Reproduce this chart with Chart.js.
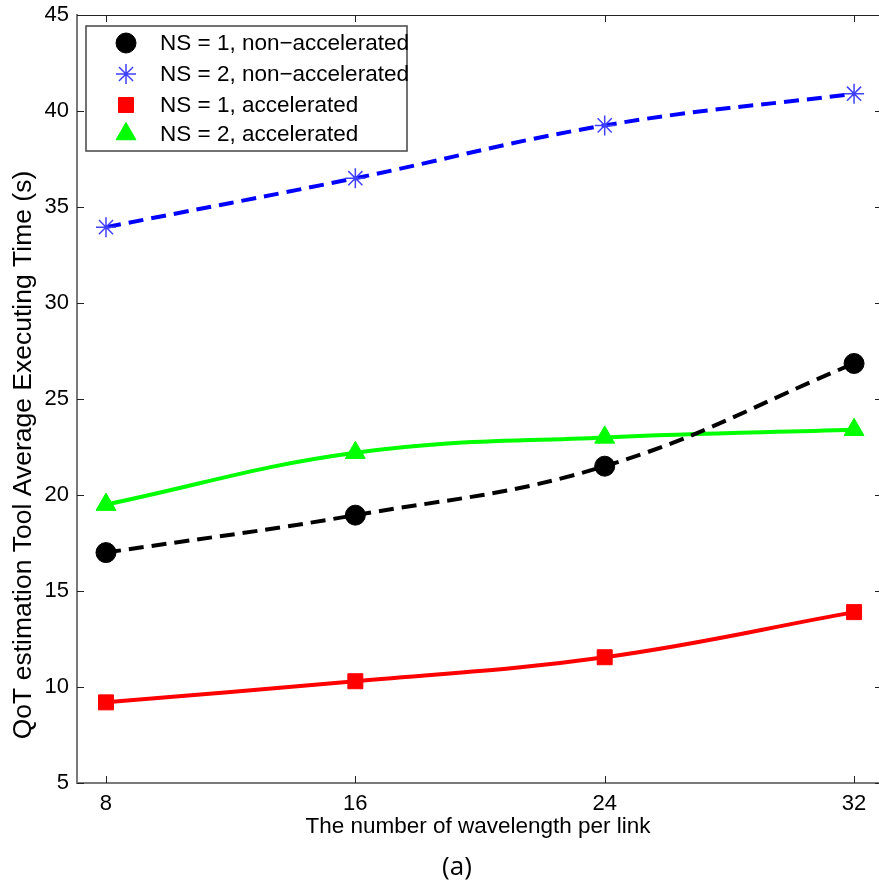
<!DOCTYPE html>
<html>
<head>
<meta charset="utf-8">
<script src="https://cdn.jsdelivr.net/npm/chart.js@4/dist/chart.umd.min.js"></script>
<style>
  html, body { margin: 0; padding: 0; background: #fff; }
</style>
</head>
<body>
<canvas id="chart" width="879" height="882"></canvas>
<script>
// data
const wavelengths = [8, 16, 24, 32];
const ns1NonAccel = [17.0, 18.95, 21.5, 26.85];
const ns2NonAccel = [33.95, 36.5, 39.25, 40.9];
const ns1Accel = [9.2, 10.3, 11.55, 13.9];
const ns2Accel = [19.5, 22.2, 23.0, 23.4];
const seriesNames = [
  "NS = 1, non\u2212accelerated",
  "NS = 2, non\u2212accelerated",
  "NS = 1, accelerated",
  "NS = 2, accelerated",
];
const xTicks = [8, 16, 24, 32];
const yTicks = [5, 10, 15, 20, 25, 30, 35, 40, 45];
const yTitle = "QoT estimation Tool Average Executing Time (s)";
const xTitle = "The number of wavelength per link";

const FONT = "'Liberation Sans', Arial, sans-serif";

function pts(values) {
  return wavelengths.map((x, i) => ({ x: x, y: values[i] }));
}

// inward ticks, top frame, y title, boxed legend and the "(a)" caption
const framePlugin = {
  id: "frame",
  afterDraw(chart) {
    const ctx = chart.ctx;
    const a = chart.chartArea;
    const xs = chart.scales.x, ys = chart.scales.y;
    ctx.save();
    ctx.strokeStyle = "#222";
    ctx.lineWidth = 1;
    ctx.beginPath();
    ctx.moveTo(a.left, a.top + 0.5);
    ctx.lineTo(a.right, a.top + 0.5);
    xTicks.forEach(v => {
      const px = Math.round(xs.getPixelForValue(v)) + 0.5;
      ctx.moveTo(px, a.bottom);
      ctx.lineTo(px, a.bottom - 7);
      ctx.moveTo(px, a.top);
      ctx.lineTo(px, a.top + 7);
    });
    yTicks.forEach(v => {
      const py = Math.round(ys.getPixelForValue(v)) + 0.5;
      ctx.moveTo(a.left, py);
      ctx.lineTo(a.left + 7, py);
      ctx.moveTo(a.right, py);
      ctx.lineTo(a.right - 4, py);
    });
    ctx.stroke();

    // y axis title (sits a bit below the middle in the original)
    ctx.save();
    ctx.translate(24, 455);
    ctx.rotate(-Math.PI / 2);
    ctx.fillStyle = "#000";
    ctx.font = "26.5px " + FONT;
    ctx.textAlign = "center";
    ctx.textBaseline = "middle";
    ctx.fillText(yTitle, 0, 0);
    ctx.restore();

    // legend
    const bx = 86, by = 26, bw = 321, bh = 125;
    ctx.fillStyle = "#fff";
    ctx.fillRect(bx, by, bw, bh);
    ctx.strokeStyle = "#444";
    ctx.lineWidth = 1.5;
    ctx.strokeRect(bx, by, bw, bh);
    const rows = [43, 74, 105, 134];
    chart.data.datasets.forEach((ds, i) => {
      ctx.fillStyle = ds.pointBackgroundColor;
      ctx.strokeStyle = ds.pointBorderColor;
      ctx.lineWidth = ds.pointBorderWidth;
      ctx.setLineDash([]);
      Chart.helpers.drawPoint(ctx, {
        pointStyle: ds.pointStyle,
        radius: ds.pointRadius,
        rotation: 0,
        borderWidth: ds.pointBorderWidth,
      }, 126, rows[i]);
      ctx.fillStyle = "#000";
      ctx.font = "22.5px " + FONT;
      ctx.textAlign = "left";
      ctx.textBaseline = "middle";
      ctx.fillText(ds.label, 160, rows[i] + 1);
    });

    ctx.fillStyle = "#000";
    ctx.font = "26px 'Open Sans', 'Noto Sans', sans-serif";
    ctx.textAlign = "center";
    ctx.textBaseline = "alphabetic";
    ctx.fillText("(a)", 457, 875);
    ctx.restore();
  },
};

new Chart(document.getElementById("chart"), {
  type: "line",
  data: {
    datasets: [
      {
        label: seriesNames[0],
        data: pts(ns1NonAccel),
        borderColor: "#000",
        borderWidth: 4,
        borderDash: [15, 8],
        pointStyle: "circle",
        pointRadius: 10,
        pointBackgroundColor: "#000",
        pointBorderColor: "#000",
        pointBorderWidth: 1,
      },
      {
        label: seriesNames[1],
        data: pts(ns2NonAccel),
        borderColor: "#0000ff",
        borderWidth: 4,
        borderDash: [15, 8],
        pointStyle: "star",
        pointRadius: 10,
        pointBackgroundColor: "#4040ff",
        pointBorderColor: "#4040ff",
        pointBorderWidth: 1.5,
      },
      {
        label: seriesNames[2],
        data: pts(ns1Accel),
        borderColor: "#ff0000",
        borderWidth: 4,
        pointStyle: "rect",
        pointRadius: 10.6,
        pointBackgroundColor: "#ff0000",
        pointBorderColor: "#ff0000",
        pointBorderWidth: 1,
      },
      {
        label: seriesNames[3],
        data: pts(ns2Accel),
        borderColor: "#00ff00",
        borderWidth: 4,
        pointStyle: "triangle",
        pointRadius: 11.5,
        pointBackgroundColor: "#00ff00",
        pointBorderColor: "#00ff00",
        pointBorderWidth: 1,
      },
    ],
  },
  options: {
    responsive: false,
    animation: false,
    devicePixelRatio: 1,
    tension: 0.4,
    layout: { autoPadding: false, padding: { top: 15, right: 0, left: 0, bottom: 0 } },
    plugins: {
      legend: { display: false },
      tooltip: { enabled: false },
    },
    scales: {
      x: {
        type: "linear",
        min: 7.07,
        max: 32.8,
        afterFit(s) {
          s.height = 99;
          s.paddingLeft = 0;
          s.paddingRight = 0;
        },
        afterBuildTicks(s) { s.ticks = xTicks.map(v => ({ value: v })); },
        grid: { display: false, drawTicks: false },
        border: { color: "#7a7a7a", width: 2 },
        ticks: { color: "#000", font: { family: FONT, size: 22 }, padding: 8 },
        title: {
          display: true,
          text: xTitle,
          color: "#000",
          font: { family: FONT, size: 22.5 },
          padding: { top: 0, bottom: 42 },
        },
      },
      y: {
        min: 5,
        max: 45,
        afterFit(s) {
          s.width = 77;
          s.paddingTop = 0;
          s.paddingBottom = 0;
        },
        afterBuildTicks(s) { s.ticks = yTicks.map(v => ({ value: v })); },
        grid: { display: false, drawTicks: false },
        border: { color: "#7a7a7a", width: 2 },
        ticks: { color: "#000", font: { family: FONT, size: 22 }, padding: 8 },
        title: { display: false },
      },
    },
  },
  plugins: [framePlugin],
});
</script>
</body>
</html>
